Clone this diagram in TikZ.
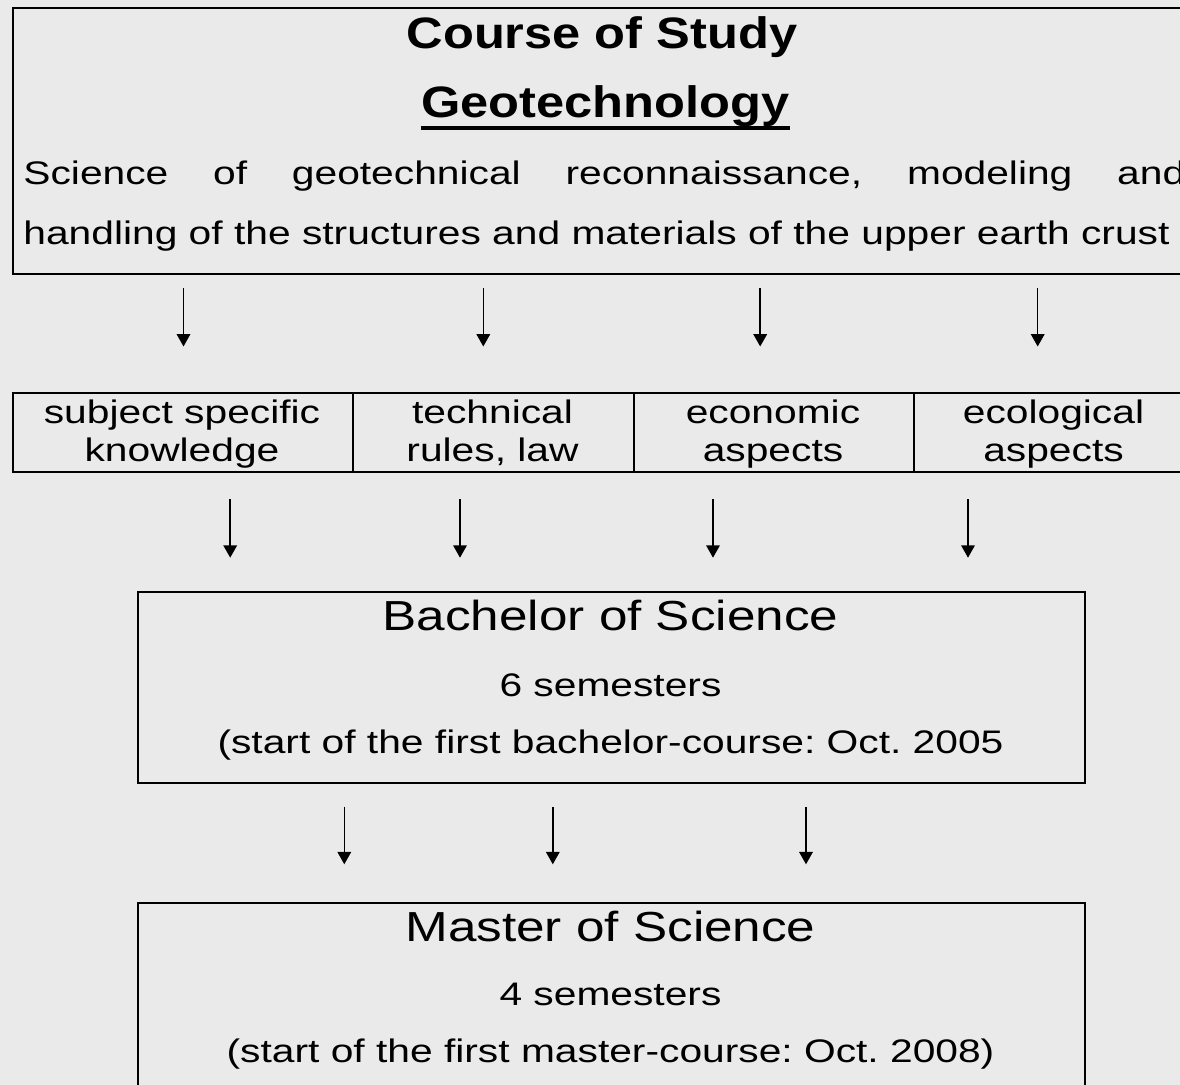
\documentclass[tikz,border=0pt]{standalone}
\usepackage{fontspec}
\setmainfont{Liberation Sans}
\newfontfamily\bodyfont[FakeStretch=1.25]{Liberation Sans}
\newfontfamily\titlefont[FakeStretch=1.22]{Liberation Sans}
\newfontfamily\btitlefont[FakeStretch=1.15]{Liberation Sans}
\usetikzlibrary{arrows.meta}
\definecolor{bg}{HTML}{EAEAEA}
\frenchspacing
\begin{document}
\begin{tikzpicture}[x=0.5pt,y=-0.5pt,
  txt/.style={inner sep=0pt, anchor=base, font=\bodyfont\fontsize{16.3}{20}\selectfont},
  ttl/.style={inner sep=0pt, anchor=base, font=\titlefont\fontsize{21}{25}\selectfont},
  bttl/.style={inner sep=0pt, anchor=base, font=\btitlefont\bfseries\fontsize{22}{26}\selectfont},
  frame/.style={draw=black, line width=1pt, inner sep=0pt, anchor=north west},
  arr/.style={line width=0.75pt, -{Triangle[width=6.8pt,length=6.2pt]}}
]
\useasboundingbox (0,0) rectangle (1180,1085);
\fill[bg] (0,0) rectangle (1180,1085);
\clip (0,0) rectangle (1180,1085);

% top box
\node[frame, minimum width=591.5pt, minimum height=133pt] (top) at (12,7) {};
\node[bttl] (course) at (602,48.3) {Course of Study};
\node[bttl] (geo) at (605.5,118) {Geotechnology};
\draw[line width=2pt] ([yshift=-4.8pt]geo.base west) -- ([yshift=-4.8pt]geo.base east);
\node[txt, anchor=base west] (l1) at (23,185) {\makebox[581pt][s]{Science of geotechnical reconnaissance, modeling and}};
\node[txt, anchor=base west] (l2) at (23,245) {handling of the structures and materials of the upper earth crust};

% arrows row 1
\foreach \i/\x in {1/183.5,2/483.3,3/760.2,4/1037.7}{
  \coordinate (sa\i) at (\x,288);
  \coordinate (ea\i) at (\x,346.5);
  \draw[arr] (sa\i) -- (ea\i);
}

% middle row
\node[frame, minimum width=170pt, minimum height=39.5pt] (c1) at (12,392) {};
\node[frame, minimum width=140.5pt, minimum height=39.5pt] (c2) at (352,392) {};
\node[frame, minimum width=140pt, minimum height=39.5pt] (c3) at (633,392) {};
\node[frame, minimum width=141pt, minimum height=39.5pt] (c4) at (913,392) {};
\node[txt] (c1a) at (182,423.3) {subject specific};
\node[txt] (c1b) at (182,461.5) {knowledge};
\node[txt] (c2a) at (492.5,423.3) {technical};
\node[txt] (c2b) at (492.5,461.5) {rules, law};
\node[txt] (c3a) at (773,423.3) {economic};
\node[txt] (c3b) at (773,461.5) {aspects};
\node[txt] (c4a) at (1053.5,423.3) {ecological};
\node[txt] (c4b) at (1053.5,461.5) {aspects};

% arrows row 2
\foreach \i/\x in {1/230.2,2/460,3/713,4/968}{
  \coordinate (sb\i) at (\x,499.5);
  \coordinate (eb\i) at (\x,557.7);
  \draw[arr] (sb\i) -- (eb\i);
}

% bachelor box
\node[frame, minimum width=473.5pt, minimum height=95.75pt] (bsc) at (137,591) {};
\node[ttl] (bt) at (610.5,630.5) {Bachelor of Science};
\node[txt] (b2) at (610.5,696.5) {6 semesters};
\node[txt] (b3) at (610.5,754) {(start of the first bachelor-course: Oct. 2005};

% arrows row 3
\foreach \i/\x in {1/344.3,2/552.8,3/806}{
  \coordinate (sc\i) at (\x,806.7);
  \coordinate (ec\i) at (\x,864.3);
  \draw[arr] (sc\i) -- (ec\i);
}

% master box
\node[frame, minimum width=473.5pt, minimum height=104pt] (msc) at (137,902) {};
\node[ttl] (mt) at (610.5,942) {Master of Science};
\node[txt] (m2) at (610.5,1006) {4 semesters};
\node[txt] (m3) at (610.5,1063) {(start of the first master-course: Oct. 2008)};
\end{tikzpicture}
\end{document}
